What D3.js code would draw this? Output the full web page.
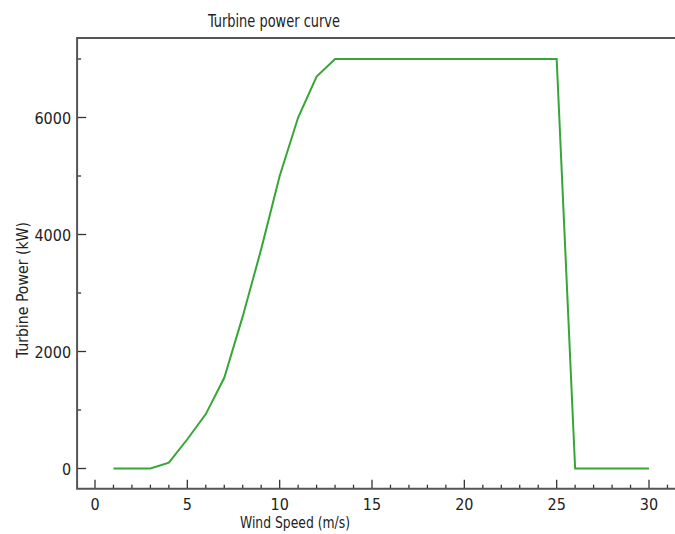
<!DOCTYPE html>
<html>
<head>
<meta charset="utf-8">
<script src="https://cdn.jsdelivr.net/npm/d3@7"></script>
<style>
  body { margin: 0; background: #fff; }
  text { font-family: "DejaVu Sans Condensed", "DejaVu Sans", sans-serif; fill: #222; }
</style>
</head>
<body>
<div class="canvas"></div>
<script>
const windSpeed = [1, 2, 3, 4, 5, 6, 7, 8, 9, 10, 11, 12, 13, 14, 15, 16, 17, 18, 19, 20, 21, 22, 23, 24, 25, 26, 27, 28, 29, 30];
const power = [0, 0, 0, 100, 500, 930, 1550, 2600, 3750, 5000, 6000, 6700, 7000, 7000, 7000, 7000, 7000, 7000, 7000, 7000, 7000, 7000, 7000, 7000, 7000, 0, 0, 0, 0, 0];
const xTicks = [0, 5, 10, 15, 20, 25, 30];
const yTicks = [0, 2000, 4000, 6000];

const width = 675, height = 534;

const svg = d3.select(".canvas").append("svg")
  .attr("width", width)
  .attr("height", height);

// axis domain chosen so the frame lands where the reference has it
const x = d3.scaleLinear().domain([0, 30]).range([95, 649]);
const y = d3.scaleLinear().domain([0, 6000]).range([468.5, 117.5]);

const frameLeft = x(-0.97), frameTop = y(7360), frameBottom = y(-345);

// minor ticks
const xMinor = d3.range(0, 32);
const yMinor = d3.range(0, 7001, 1000);

svg.append("g")
  .selectAll("line")
  .data(xMinor)
  .enter()
  .append("line")
  .attr("x1", d => x(d)).attr("x2", d => x(d))
  .attr("y1", frameBottom).attr("y2", d => frameBottom - (d % 5 === 0 ? 9 : 4))
  .attr("stroke", "#333").attr("stroke-width", 1.3);

svg.append("g")
  .selectAll("line")
  .data(yMinor)
  .enter()
  .append("line")
  .attr("y1", d => y(d)).attr("y2", d => y(d))
  .attr("x1", frameLeft).attr("x2", d => frameLeft + (d % 2000 === 0 ? 9 : 4))
  .attr("stroke", "#333").attr("stroke-width", 1.3);

// frame
svg.append("path")
  .attr("d", `M${width},${frameTop}H${frameLeft}V${frameBottom}H${width}`)
  .attr("fill", "none")
  .attr("stroke", "#555")
  .attr("stroke-width", 2);

svg.append("g")
  .selectAll("text")
  .data(xTicks)
  .enter()
  .append("text")
  .attr("x", d => x(d))
  .attr("y", 510)
  .attr("text-anchor", "middle")
  .attr("font-size", 16)
  .text(d => d);

svg.append("g")
  .selectAll("text")
  .data(yTicks)
  .enter()
  .append("text")
  .attr("x", frameLeft - 6)
  .attr("y", d => y(d) + 6)
  .attr("text-anchor", "end")
  .attr("font-size", 16)
  .text(d => d);

const line = d3.line()
  .x((d, i) => x(windSpeed[i]))
  .y(d => y(d));

svg.append("path")
  .datum(power)
  .attr("d", line)
  .attr("fill", "none")
  .attr("stroke", "#36a636")
  .attr("stroke-width", 2);

svg.append("text")
  .attr("x", 274)
  .attr("y", 27)
  .attr("text-anchor", "middle")
  .attr("font-size", 18)
  .attr("textLength", 132)
  .attr("lengthAdjust", "spacingAndGlyphs")
  .text("Turbine power curve");

svg.append("text")
  .attr("x", 295)
  .attr("y", 528)
  .attr("text-anchor", "middle")
  .attr("font-size", 15)
  .attr("textLength", 110)
  .attr("lengthAdjust", "spacingAndGlyphs")
  .text("Wind Speed (m/s)");

svg.append("text")
  .attr("transform", "translate(28,290) rotate(-90)")
  .attr("text-anchor", "middle")
  .attr("font-size", 16)
  .attr("textLength", 136)
  .attr("lengthAdjust", "spacingAndGlyphs")
  .text("Turbine Power (kW)");
</script>
</body>
</html>
